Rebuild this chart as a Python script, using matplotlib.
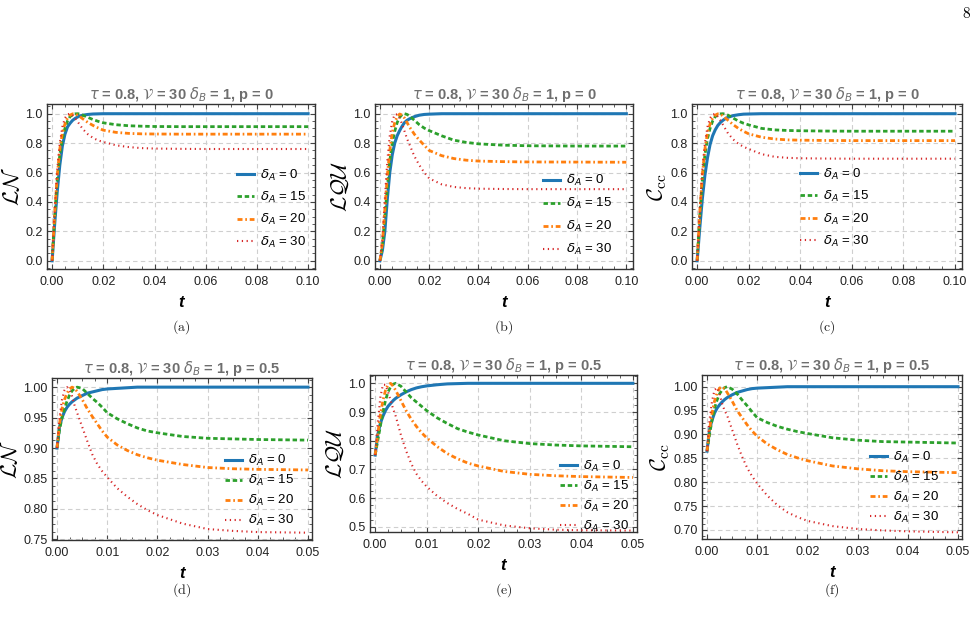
import matplotlib
matplotlib.use("Agg")
import matplotlib.pyplot as plt
from matplotlib.ticker import MultipleLocator, AutoMinorLocator

plt.rcParams["font.family"] = ["Liberation Sans", "DejaVu Sans"]

# time grids
t_top = [0, 0.001, 0.002, 0.003, 0.004, 0.005, 0.006, 0.007, 0.008, 0.009, 0.010, 0.011, 0.012,
         0.014, 0.016, 0.018, 0.020, 0.025, 0.030, 0.035, 0.040, 0.050, 0.060, 0.080, 0.100]
t_bot = [0, 0.0005, 0.001, 0.0015, 0.002, 0.0025, 0.003, 0.0035, 0.004, 0.005, 0.006, 0.007, 0.008,
         0.009, 0.010, 0.012, 0.014, 0.016, 0.018, 0.020, 0.025, 0.030, 0.035, 0.040, 0.050]

labels = [r"$\delta_A$ = 0", r"$\delta_A$ = 15", r"$\delta_A$ = 20", r"$\delta_A$ = 30"]

# (a) LN, p = 0
ln0_d0 = [0, 0.25, 0.47, 0.65, 0.78, 0.86, 0.91, 0.935, 0.955, 0.968, 0.978, 0.985, 0.99,
          0.995, 0.998, 0.999, 1.0, 1.0, 1.0, 1.0, 1.0, 1.0, 1.0, 1.0, 1.0]
ln0_d15 = [0, 0.3, 0.55, 0.72, 0.83, 0.9, 0.95, 0.98, 0.993, 0.999, 1.0, 0.998, 0.99,
           0.975, 0.96, 0.948, 0.938, 0.925, 0.918, 0.915, 0.913, 0.912, 0.912, 0.912, 0.912]
ln0_d20 = [0, 0.32, 0.58, 0.76, 0.87, 0.93, 0.97, 0.99, 0.999, 0.998, 0.99, 0.978, 0.965,
           0.94, 0.92, 0.903, 0.888, 0.873, 0.866, 0.863, 0.862, 0.861, 0.861, 0.861, 0.861]
ln0_d30 = [0, 0.35, 0.62, 0.8, 0.91, 0.97, 0.995, 1.0, 0.99, 0.97, 0.945, 0.92, 0.895,
           0.86, 0.835, 0.818, 0.808, 0.785, 0.773, 0.766, 0.763, 0.761, 0.76, 0.76, 0.76]

# (b) LQU, p = 0
lq0_d0 = [0, 0.07, 0.2, 0.42, 0.6, 0.72, 0.8, 0.85, 0.885, 0.915, 0.94, 0.955, 0.965,
          0.98, 0.99, 0.995, 0.997, 1.0, 1.0, 1.0, 1.0, 1.0, 1.0, 1.0, 1.0]
lq0_d15 = [0, 0.1, 0.3, 0.5, 0.68, 0.8, 0.88, 0.94, 0.975, 0.995, 1.0, 0.995, 0.985,
           0.955, 0.925, 0.902, 0.885, 0.85, 0.82, 0.805, 0.795, 0.786, 0.782, 0.78, 0.78]
lq0_d20 = [0, 0.12, 0.35, 0.58, 0.75, 0.87, 0.94, 0.98, 0.998, 0.99, 0.97, 0.94, 0.91,
           0.86, 0.82, 0.785, 0.75, 0.715, 0.695, 0.684, 0.678, 0.674, 0.672, 0.671, 0.67]
lq0_d30 = [0, 0.15, 0.42, 0.68, 0.85, 0.95, 0.995, 0.995, 0.97, 0.93, 0.88, 0.83, 0.79,
           0.71, 0.65, 0.6, 0.56, 0.52, 0.502, 0.494, 0.49, 0.488, 0.487, 0.487, 0.487]

# (c) Ccc, p = 0
cc0_d0 = [0, 0.22, 0.42, 0.58, 0.7, 0.79, 0.85, 0.89, 0.92, 0.94, 0.955, 0.967, 0.976,
          0.987, 0.993, 0.997, 0.998, 1.0, 1.0, 1.0, 1.0, 1.0, 1.0, 1.0, 1.0]
cc0_d15 = [0, 0.3, 0.55, 0.72, 0.83, 0.9, 0.95, 0.98, 0.993, 0.999, 1.0, 0.997, 0.99,
           0.97, 0.95, 0.935, 0.924, 0.9, 0.89, 0.886, 0.884, 0.882, 0.881, 0.881, 0.881]
cc0_d20 = [0, 0.32, 0.58, 0.76, 0.87, 0.93, 0.97, 0.99, 0.999, 0.997, 0.985, 0.97, 0.955,
           0.925, 0.9, 0.88, 0.863, 0.84, 0.828, 0.822, 0.82, 0.818, 0.817, 0.817, 0.817]
cc0_d30 = [0, 0.35, 0.62, 0.8, 0.91, 0.97, 0.995, 0.998, 0.98, 0.955, 0.925, 0.895, 0.865,
           0.825, 0.795, 0.775, 0.76, 0.725, 0.707, 0.7, 0.697, 0.695, 0.694, 0.694, 0.694]

# (d) LN, p = 0.5
ln5_d0 = [0.9, 0.935, 0.95, 0.96, 0.967, 0.972, 0.976, 0.979, 0.982, 0.986, 0.99, 0.992, 0.994,
          0.996, 0.997, 0.998, 0.999, 1.0, 1.0, 1.0, 1.0, 1.0, 1.0, 1.0, 1.0]
ln5_d15 = [0.9, 0.93, 0.95, 0.965, 0.977, 0.987, 0.994, 0.998, 1.0, 0.998, 0.99, 0.982, 0.975,
           0.967, 0.958, 0.948, 0.94, 0.933, 0.928, 0.925, 0.919, 0.916, 0.915, 0.914, 0.913]
ln5_d20 = [0.9, 0.94, 0.965, 0.98, 0.99, 0.997, 1.0, 0.998, 0.993, 0.98, 0.965, 0.952, 0.94,
           0.928, 0.918, 0.905, 0.896, 0.889, 0.884, 0.88, 0.873, 0.868, 0.866, 0.865, 0.864]
ln5_d30 = [0.9, 0.95, 0.98, 0.995, 1.0, 0.995, 0.985, 0.97, 0.958, 0.935, 0.912, 0.89, 0.874,
           0.862, 0.852, 0.834, 0.82, 0.808, 0.798, 0.79, 0.776, 0.767, 0.764, 0.762, 0.761]

# (e) LQU, p = 0.5
lq5_d0 = [0.75, 0.82, 0.86, 0.885, 0.905, 0.92, 0.93, 0.94, 0.948, 0.96, 0.97, 0.978, 0.984,
          0.988, 0.991, 0.995, 0.998, 0.999, 1.0, 1.0, 1.0, 1.0, 1.0, 1.0, 1.0]
lq5_d15 = [0.75, 0.8, 0.85, 0.9, 0.94, 0.97, 0.988, 0.997, 1.0, 0.99, 0.97, 0.95, 0.935,
           0.92, 0.905, 0.88, 0.86, 0.842, 0.83, 0.82, 0.8, 0.79, 0.785, 0.782, 0.779]
lq5_d20 = [0.75, 0.82, 0.89, 0.94, 0.975, 0.995, 1.0, 0.99, 0.975, 0.94, 0.905, 0.875, 0.85,
           0.828, 0.81, 0.78, 0.755, 0.737, 0.722, 0.712, 0.693, 0.683, 0.678, 0.675, 0.672]
lq5_d30 = [0.75, 0.86, 0.95, 0.995, 0.995, 0.97, 0.94, 0.91, 0.885, 0.82, 0.765, 0.72, 0.685,
           0.66, 0.64, 0.608, 0.583, 0.562, 0.545, 0.525, 0.505, 0.495, 0.49, 0.488, 0.487]

# (f) Ccc, p = 0.5
cc5_d0 = [0.865, 0.91, 0.93, 0.945, 0.955, 0.962, 0.968, 0.973, 0.977, 0.983, 0.988, 0.991, 0.994,
          0.996, 0.997, 0.998, 0.999, 1.0, 1.0, 1.0, 1.0, 1.0, 1.0, 1.0, 1.0]
cc5_d15 = [0.865, 0.9, 0.93, 0.955, 0.972, 0.985, 0.993, 0.998, 1.0, 0.995, 0.985, 0.972, 0.96,
           0.947, 0.935, 0.925, 0.917, 0.911, 0.906, 0.902, 0.893, 0.888, 0.885, 0.884, 0.882]
cc5_d20 = [0.865, 0.91, 0.945, 0.97, 0.987, 0.997, 1.0, 0.996, 0.988, 0.97, 0.95, 0.935, 0.92,
           0.907, 0.896, 0.88, 0.868, 0.858, 0.851, 0.845, 0.834, 0.828, 0.824, 0.822, 0.82]
cc5_d30 = [0.865, 0.93, 0.97, 0.993, 0.998, 0.985, 0.965, 0.95, 0.94, 0.91, 0.88, 0.853, 0.83,
           0.812, 0.797, 0.772, 0.752, 0.737, 0.727, 0.719, 0.708, 0.702, 0.699, 0.697, 0.695]

colors = ["#1f77b4", "#2ca02c", "#ff7f0e", "#d62728"]
styles = [dict(lw=2.2, ls="-"),
          dict(lw=2.0, dashes=(1.6, 1.0)),
          dict(lw=2.0, dashes=(1.8, 1.0, 0.6, 1.0)),
          dict(lw=1.5, dashes=(0.6, 1.7))]

panels = [
    dict(box=(47, 104, 315, 269), t=t_top, ys=[ln0_d0, ln0_d15, ln0_d20, ln0_d30], yl=r"$\mathcal{LN}$",
         p="0", xlim=(-0.002, 0.1027), ylim=(-0.056, 1.066), ymaj=0.2, xmaj=0.02, yfmt="{x:.1f}",
         leg=(0.71, 0.615), sp=0.55, cap="(a)", capy=327),
    dict(box=(375, 104, 633, 269), t=t_top, ys=[lq0_d0, lq0_d15, lq0_d20, lq0_d30], yl=r"$\mathcal{LQU}$",
         p="0", xlim=(-0.002, 0.1027), ylim=(-0.056, 1.066), ymaj=0.2, xmaj=0.02, yfmt="{x:.1f}",
         leg=(0.65, 0.58), sp=0.6, cap="(b)", capy=327),
    dict(box=(692, 104, 962, 269), t=t_top, ys=[cc0_d0, cc0_d15, cc0_d20, cc0_d30],
         yl=r"$\mathcal{C}_{\mathrm{cc}}$",
         p="0", xlim=(-0.002, 0.1027), ylim=(-0.056, 1.066), ymaj=0.2, xmaj=0.02, yfmt="{x:.1f}",
         leg=(0.40, 0.62), sp=0.55, cap="(c)", capy=327),
    dict(box=(52, 378, 312, 540), t=t_bot, ys=[ln5_d0, ln5_d15, ln5_d20, ln5_d30], yl=r"$\mathcal{LN}$",
         p="0.5", xlim=(-0.001, 0.0508), ylim=(0.749, 1.015), ymaj=0.05, xmaj=0.01, yfmt="{x:.2f}",
         leg=(0.665, 0.535), sp=0.37, cap="(d)", capy=590),
    dict(box=(370, 375, 637, 532), t=t_bot, ys=[lq5_d0, lq5_d15, lq5_d20, lq5_d30], yl=r"$\mathcal{LQU}$",
         p="0.5", xlim=(-0.001, 0.0508), ylim=(0.482, 1.029), ymaj=0.1, xmaj=0.01, yfmt="{x:.1f}",
         leg=(0.71, 0.465), sp=0.37, cap="(e)", capy=590),
    dict(box=(702, 375, 962, 539), t=t_bot, ys=[cc5_d0, cc5_d15, cc5_d20, cc5_d30],
         yl=r"$\mathcal{C}_{\mathrm{cc}}$",
         p="0.5", xlim=(-0.001, 0.0508), ylim=(0.681, 1.0245), ymaj=0.05, xmaj=0.01, yfmt="{x:.2f}",
         leg=(0.645, 0.545), sp=0.37, cap="(f)", capy=590),
]

W, H = 980, 637
fig = plt.figure(figsize=(W / 100, H / 100), dpi=100)

for pn in panels:
    l, t, r, b = pn["box"]
    ax = fig.add_axes([l / W, 1 - b / H, (r - l) / W, (b - t) / H])
    for y, c, st, lab in zip(pn["ys"], colors, styles, labels):
        ax.plot(pn["t"], y, color=c, label=lab, **st)
    ax.set_xlim(*pn["xlim"])
    ax.set_ylim(*pn["ylim"])
    ax.xaxis.set_major_locator(MultipleLocator(pn["xmaj"]))
    ax.yaxis.set_major_locator(MultipleLocator(pn["ymaj"]))
    ax.xaxis.set_minor_locator(AutoMinorLocator(4))
    ax.yaxis.set_minor_locator(AutoMinorLocator(4))
    ax.xaxis.set_major_formatter("{x:.2f}")
    ax.yaxis.set_major_formatter(pn["yfmt"])
    ax.tick_params(which="both", direction="in", top=True, right=True, color="#444444",
                   labelsize=9, labelcolor="#222222")
    ax.tick_params(axis="x", pad=5)
    ax.tick_params(axis="y", pad=3)
    ax.tick_params(which="major", length=3.5, width=0.8)
    ax.tick_params(which="minor", length=2, width=0.6)
    for s in ax.spines.values():
        s.set_color("#333333")
        s.set_linewidth(1.0)
    ax.grid(True, which="major", ls=(0, (4, 3)), color="#cfcfcf", lw=0.8)
    ax.set_axisbelow(True)
    ax.set_title(r"$\tau$ = 0.8, $\mathcal{V}$ = 30 $\delta_B$ = 1, p = " + pn["p"],
                 fontsize=10.5, fontweight="bold", color="#6e6e6e", pad=2)
    ax.set_ylabel(pn["yl"], fontsize=16, math_fontfamily="cm", labelpad=1)
    ax.set_xlabel("t", fontsize=12, fontweight="bold", fontstyle="italic", labelpad=5)
    ax.legend(loc="upper left", bbox_to_anchor=pn["leg"], frameon=False, fontsize=9.5,
              borderaxespad=0, borderpad=0, handlelength=1.3, handletextpad=0.45,
              labelspacing=pn["sp"])
    fig.text((l + r) / 2 / W, 1 - pn["capy"] / H, r"$\mathrm{" + pn["cap"] + "}$",
             fontsize=10, math_fontfamily="cm", ha="center", va="center", color="#222222")

fig.text(966 / W, 1 - 13 / H, r"$\mathrm{8}$", fontsize=11, math_fontfamily="cm", ha="center", va="center")

fig.savefig("out.png", dpi=100)
